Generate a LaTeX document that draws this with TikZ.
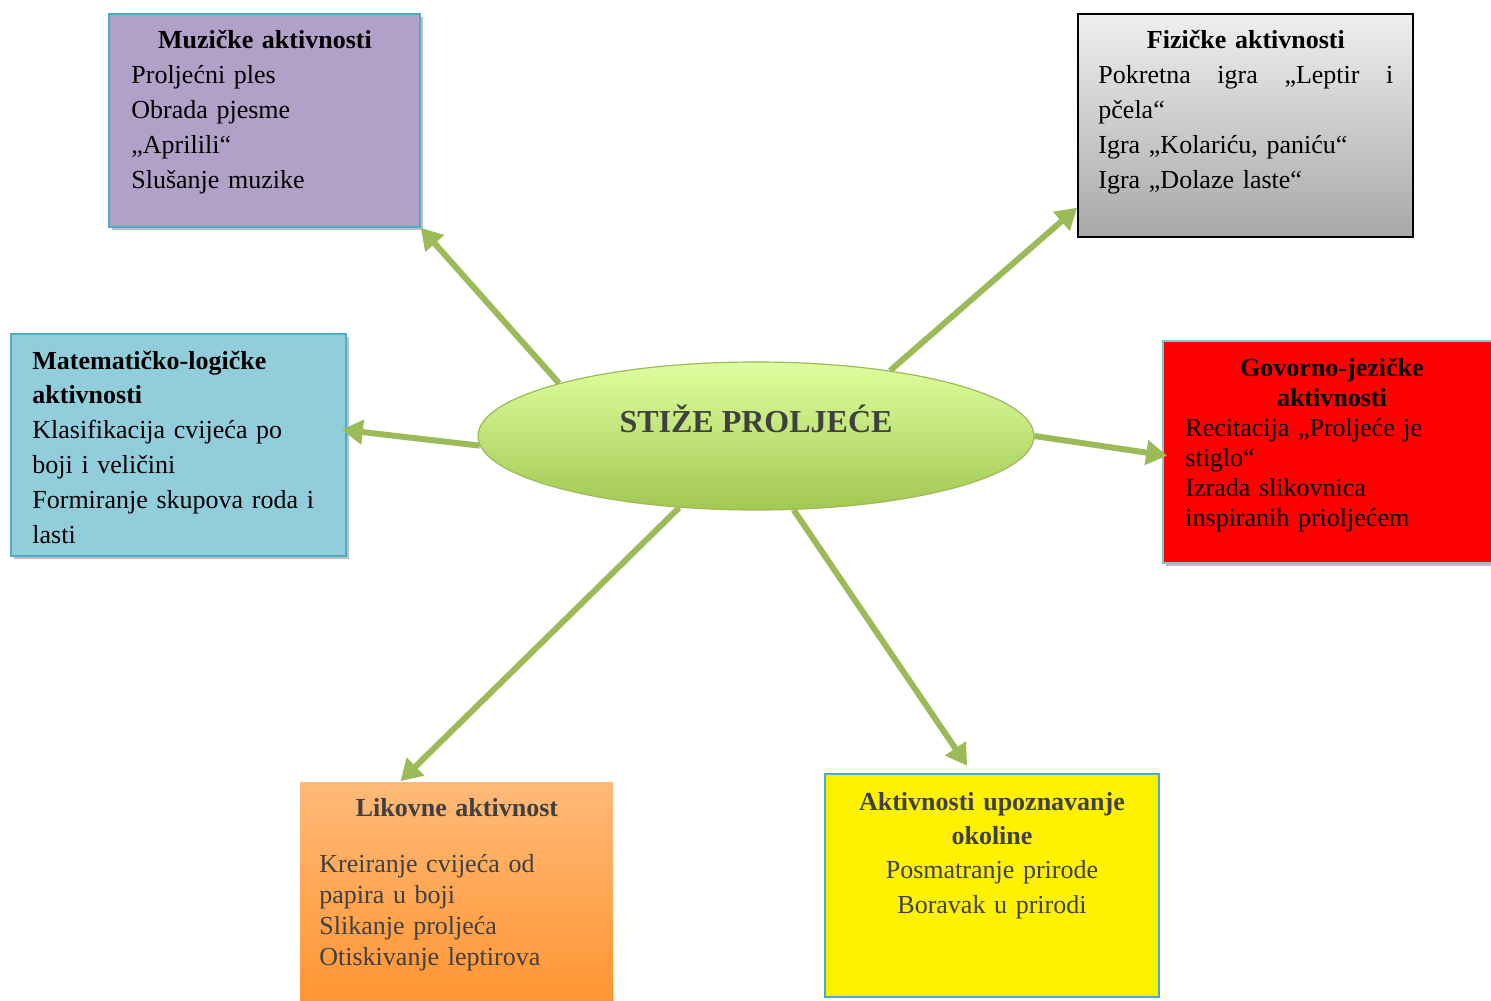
\documentclass[tikz,border=0pt]{standalone}
\usepackage{fontspec}
\setmainfont{Liberation Serif}
\usetikzlibrary{shapes.geometric,arrows.meta,shadows}
\definecolor{grn}{HTML}{9BBB59}
\definecolor{bordblue}{HTML}{4BACC6}
\definecolor{purp}{HTML}{B1A0C7}
\definecolor{lblue}{HTML}{92CDDC}
\definecolor{dgray}{HTML}{404040}
\definecolor{elltop}{HTML}{DDFF9F}
\definecolor{ellbot}{HTML}{A2C752}
\definecolor{figtop}{HTML}{EFEFEF}
\definecolor{figbot}{HTML}{A8A8A8}
\definecolor{orgtop}{HTML}{FFBA78}
\definecolor{orgbot}{HTML}{FF9430}
\begin{document}
\begin{tikzpicture}[x=0.5pt,y=-0.5pt,
  box/.style={rectangle, inner sep=0pt, line width=0.8pt},
  shad/.style={drop shadow={shadow xshift=1.5pt,shadow yshift=-1.5pt,fill=black,opacity=0.25}},
  txt/.style={inner sep=0pt, anchor=base west, align=left, font=\fontsize{13}{17.4}\selectfont},
  conn/.style={draw=grn, line width=3pt, -{Triangle[length=10.5pt,width=12pt]}},
  ]
\useasboundingbox (0,0) rectangle (1491,1000);
\fill[white] (0,0) rectangle (1491,1000);
\clip (0,0) rectangle (1491,1000);

% boxes
\node[box, shad, draw=bordblue, fill=purp, minimum width=155.5pt, minimum height=106.5pt] (muz) at (264.5,120.5) {};
\node[box, draw=black, top color=figtop, bottom color=figbot, minimum width=167.5pt, minimum height=111.5pt] (fiz) at (1245.5,125.5) {};
\node[box, shad, draw=bordblue, fill=lblue, minimum width=167.5pt, minimum height=111pt] (mat) at (178.5,445) {};
\node[box, shad, draw=bordblue!70, fill=red, minimum width=168.5pt, minimum height=111pt] (gov) at (1331.5,452) {};
\node[box, top color=orgtop, bottom color=orgbot, minimum width=156.5pt, minimum height=114pt] (lik) at (456.5,896) {};
\node[box, draw=bordblue, fill=yellow, minimum width=167pt, minimum height=111.5pt] (upo) at (992,885.5) {};

% central ellipse
\node[ellipse, draw=grn, line width=0.6pt, top color=elltop, bottom color=ellbot, minimum width=278pt, minimum height=74pt, inner sep=0pt] (c) at (756,436) {};
\node[inner sep=0pt, anchor=base, text=dgray, font=\bfseries\fontsize{16}{19}\selectfont] (ct) at (756,432) {STIŽE PROLJEĆE};

% texts
\node[txt, text width=133.5pt] (muzt) at (131,49) {{\centering\bfseries Muzičke aktivnosti\par}Proljećni ples\par Obrada pjesme\par „Aprilili“\par Slušanje muzike};

\node[txt, text width=147.5pt] (fizt) at (1098,49) {{\centering\bfseries Fizičke aktivnosti\par}\hbox to\linewidth{Pokretna\hfill igra\hfill „Leptir\hfill i}\par pčela“\par Igra „Kolariću, paniću“\par Igra „Dolaze laste“};

\node[txt, text width=151.5pt] (matt) at (32,369) {{\bfseries Matematičko-logičke\par aktivnosti\par}Klasifikacija cvijeća po\par boji i veličini\par Formiranje skupova roda i\par lasti};

\node[txt, text width=146.5pt, font=\fontsize{13}{15}\selectfont] (govt) at (1185,376) {{\centering\bfseries Govorno-jezičke\par aktivnosti\par}Recitacija „Proljeće je\par stiglo“\par Izrada slikovnica\par inspiranih prioljećem};

\node[txt, text width=137.5pt, text=dgray, font=\fontsize{13}{15.5}\selectfont] (likt) at (319,816) {{\centering\bfseries Likovne aktivnost\par}\vspace{12.5pt}Kreiranje cvijeća od\par papira u boji\par Slikanje proljeća\par Otiskivanje leptirova};

\node[txt, anchor=base, align=center, text width=165pt, text=dgray, font=\fontsize{13}{17.2}\selectfont] (upot) at (992,810) {{\bfseries Aktivnosti upoznavanje\par okoline\par}Posmatranje prirode\par Boravak u prirodi};

% connectors
\draw[conn] (c.165.8) -- (muz.south east);
\draw[conn] (c.26.6) -- (fiz.206.6);
\draw[conn, shorten >=-2.5pt] (c.182.9) -- (mat.5.2);
\draw[conn, shorten >=-2.5pt] (c.-0.4) -- (gov.181);
\draw[conn] (c.223.6) -- (lik.116);
\draw[conn, shorten >=4.5pt] (c.297.4) -- (upo.100.8);
\end{tikzpicture}
\end{document}
